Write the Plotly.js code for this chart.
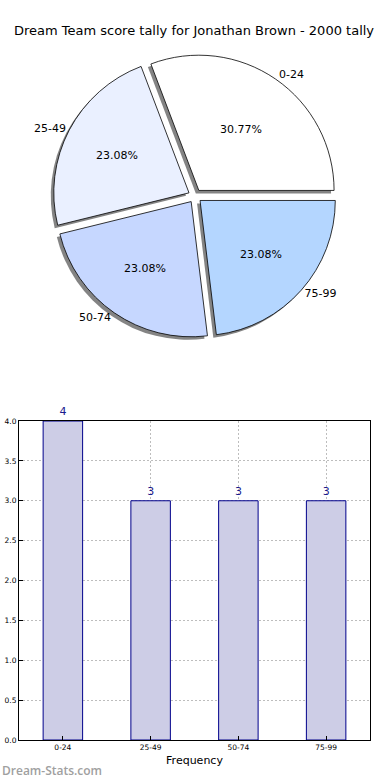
<!DOCTYPE html>
<html><head><meta charset="utf-8">
<script src="https://cdn.plot.ly/plotly-3.0.1.min.js"></script>
<style>html,body{margin:0;padding:0;background:#fff}#chart{width:390px;height:780px}</style>
</head><body><div id="chart"></div>
<script>
const categories = ["0-24", "25-49", "50-74", "75-99"];
const counts = [4, 3, 3, 3];
const pieColors = ["#ffffff", "#eaf0ff", "#c6d7ff", "#b4d6ff"];
const titleText = "Dream Team score tally for Jonathan Brown - 2000 tally";

const font = "DejaVu Sans, sans-serif";
const W = 390, H = 780;
// pie geometry (pixels)
const cx = 195, cy = 196, side = 284;
function dom(dx, dy) {
  return {
    x: [(cx - side / 2 + dx) / W, (cx + side / 2 + dx) / W],
    y: [1 - (cy + side / 2 + dy) / H, 1 - (cy - side / 2 + dy) / H]
  };
}
const total = counts.reduce((a, b) => a + b, 0);
// first wedge starts at 3 o'clock and runs counterclockwise (matplotlib style)
const rot = 90 - 360 * counts[0] / total;
const pull = categories.map(() => 0.05);
const common = {
  type: "pie", labels: categories, values: counts, sort: false,
  direction: "counterclockwise", rotation: rot, pull: pull,
  hoverinfo: "skip", showlegend: false
};
const shadow = Object.assign({}, common, {
  domain: dom(-3, 3),
  marker: { colors: categories.map(() => "rgba(110,110,110,0.85)"), line: { width: 0 } },
  textinfo: "none"
});
const main = Object.assign({}, common, {
  domain: dom(0, 0),
  marker: { colors: pieColors, line: { color: "#000", width: 0.8 } },
  texttemplate: "%{percent:.2%}", textposition: "inside",
  insidetextorientation: "horizontal",
  textfont: { family: font, size: 11, color: "#000" }
});
const outer = Object.assign({}, common, {
  domain: dom(0, 0),
  marker: { colors: categories.map(() => "rgba(0,0,0,0)"), line: { width: 0 } },
  texttemplate: "%{label}", textposition: "outside",
  outsidetextfont: { family: font, size: 11, color: "#000" }
});
const bars = {
  type: "bar", x: categories, y: counts, width: 0.45,
  marker: { color: "#cdcde6", line: { color: "#00008b", width: 1 } },
  text: counts.map(String), textposition: "outside", cliponaxis: false,
  textfont: { family: font, size: 11, color: "#1a1a8c" },
  hoverinfo: "skip", showlegend: false, xaxis: "x", yaxis: "y"
};

const layout = {
  width: W, height: H,
  margin: { l: 0, r: 0, t: 0, b: 0 },
  paper_bgcolor: "#fff", plot_bgcolor: "#fff",
  font: { family: font, color: "#000" },
  title: { text: titleText, x: 194 / W, xanchor: "center", y: 1 - 30 / H, yanchor: "middle",
           font: { family: font, size: 13, color: "#000" } },
  xaxis: {
    domain: [19 / W, 370 / W], range: [-0.5, 3.5], type: "category",
    showline: true, mirror: true, linecolor: "#000", linewidth: 1,
    ticks: "inside", ticklen: 4, tickcolor: "#000",
    showgrid: true, gridcolor: "#bdbdbd", griddash: "2px,2px", gridwidth: 1,
    tickfont: { family: font, size: 7.5, color: "#000" },
    title: { text: "Frequency", font: { family: font, size: 11, color: "#000" }, standoff: 5 },
    zeroline: false, fixedrange: true
  },
  yaxis: {
    domain: [1 - 740 / H, 1 - 421 / H], range: [0, 4], dtick: 0.5, tickformat: ".1f",
    showline: true, mirror: true, linecolor: "#000", linewidth: 1,
    ticks: "inside", ticklen: 4, tickcolor: "#000",
    showgrid: true, gridcolor: "#bdbdbd", griddash: "2px,2px", gridwidth: 1,
    tickfont: { family: font, size: 7.5, color: "#000" },
    zeroline: false, fixedrange: true
  },
  annotations: [{
    text: "Dream-Stats.com", xref: "paper", yref: "paper",
    x: 0, y: 1 - 770 / H, xanchor: "left", yanchor: "middle", showarrow: false,
    font: { family: "Open Sans, sans-serif", size: 12, weight: 600, color: "#a0a0a0" }
  }]
};
Plotly.newPlot("chart", [shadow, main, outer, bars], layout, { displayModeBar: false, staticPlot: true });
</script></body></html>
